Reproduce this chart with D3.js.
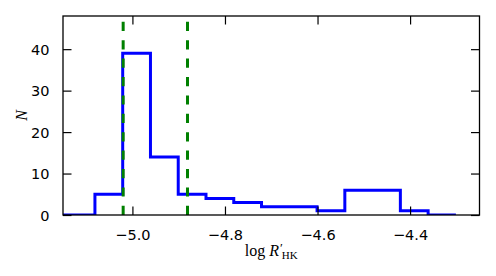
<!DOCTYPE html>
<html lang="en">
  <head>
    <meta charset="UTF-8" />
    <title>log R'HK histogram</title>
    <script src="https://cdn.jsdelivr.net/npm/d3@7"></script>
    <style>
      body { margin: 0; background: #fff; }
      .tick text { font-family: 'DejaVu Sans', sans-serif; font-size: 14.5px; fill: #000; }
    </style>
  </head>
  <body>
    <div class="chart"></div>
    <script>
      // histogram bins (log R'HK) and counts
      var binEdges = [-5.201, -5.141, -5.081, -5.021, -4.961, -4.901, -4.841, -4.781, -4.721,
                      -4.661, -4.601, -4.541, -4.481, -4.421, -4.361, -4.301]
      var counts = [0, 0, 5, 39, 14, 5, 4, 3, 2, 2, 1, 6, 6, 1, 0]
      // vertical dashed markers
      var markers = [-5.020, -4.881]
      var xTicks = [-5.0, -4.8, -4.6, -4.4]
      var yTicks = [0, 10, 20, 30, 40]

      var W = 496, H = 276
      var mLeft = 63, mRight = 479.5, mTop = 16, mBottom = 215

      var svg = d3.select('.chart').append('svg')
        .attr('width', W).attr('height', H)

      var x = d3.scaleLinear().domain([-5.15, -4.25]).range([mLeft, mRight])
      var y = d3.scaleLinear().domain([0, 48]).range([mBottom, mTop])

      svg.append('clipPath').attr('id', 'clip')
        .append('rect')
        .attr('x', mLeft).attr('y', mTop)
        .attr('width', mRight - mLeft).attr('height', mBottom - mTop)

      var plot = svg.append('g').attr('clip-path', 'url(#clip)')

      // step outline
      var pts = [[binEdges[0], 0]]
      counts.forEach(function (c, i) {
        pts.push([binEdges[i], c])
        pts.push([binEdges[i + 1], c])
      })
      pts.push([binEdges[binEdges.length - 1], 0])

      plot.append('path')
        .attr('d', d3.line().x(d => x(d[0])).y(d => y(d[1]))(pts))
        .attr('fill', 'none')
        .attr('stroke', '#0000ff')
        .attr('stroke-width', 3)
        .attr('stroke-linejoin', 'miter')

      // dashed lines, drawn bottom to top like matplotlib axvline
      plot.selectAll('.marker').data(markers).enter()
        .append('line')
        .attr('class', 'marker')
        .attr('x1', d => x(d)).attr('x2', d => x(d))
        .attr('y1', mBottom).attr('y2', mTop)
        .attr('stroke', '#008000')
        .attr('stroke-width', 3)
        .attr('stroke-dasharray', '9.2,9.2')

      // axes: inward ticks on all four sides
      var tk = 8.5
      svg.append('g').attr('transform', 'translate(0,' + mBottom + ')')
        .call(d3.axisBottom(x).tickValues(xTicks).tickFormat(d3.format('.1f')).tickSize(-tk).tickPadding(tk + 6))
      svg.append('g').attr('transform', 'translate(0,' + mTop + ')')
        .call(d3.axisTop(x).tickValues(xTicks).tickSize(-tk).tickFormat(''))
      var gy = svg.append('g').attr('transform', 'translate(' + mLeft + ',0)')
        .call(d3.axisLeft(y).tickValues(yTicks).tickSize(-tk).tickPadding(tk + 5))
      svg.append('g').attr('transform', 'translate(' + mRight + ',0)')
        .call(d3.axisRight(y).tickValues(yTicks).tickSize(-tk).tickFormat(''))

      svg.selectAll('.domain').remove()
      svg.selectAll('.tick line').attr('stroke', '#000').attr('stroke-width', 1.2)
      gy.selectAll('.tick text').attr('dy', '0.36em')

      // frame
      svg.append('rect')
        .attr('x', mLeft).attr('y', mTop)
        .attr('width', mRight - mLeft).attr('height', mBottom - mTop)
        .attr('fill', 'none').attr('stroke', '#000').attr('stroke-width', 1.3)

      // x label: log R'_HK
      var xl = svg.append('text')
        .attr('x', (mLeft + mRight) / 2).attr('y', 256)
        .attr('text-anchor', 'middle')
        .style('font-family', "'Liberation Serif', serif")
        .style('font-size', '16px')
      xl.append('tspan').text('log ')
      xl.append('tspan').style('font-style', 'italic').text('R')
      xl.append('tspan').attr('dx', 1).attr('dy', -4).attr('font-size', '13px').text('′')
      xl.append('tspan').attr('dx', -1).attr('dy', 7).attr('font-size', '11px').text('HK')

      // y label
      svg.append('text')
        .attr('transform', 'translate(27,' + (mTop + mBottom) / 2 + ') rotate(-90)')
        .attr('text-anchor', 'middle')
        .style('font-family', "'Liberation Serif', serif")
        .style('font-style', 'italic')
        .style('font-size', '16px')
        .text('N')
    </script>
  </body>
</html>
